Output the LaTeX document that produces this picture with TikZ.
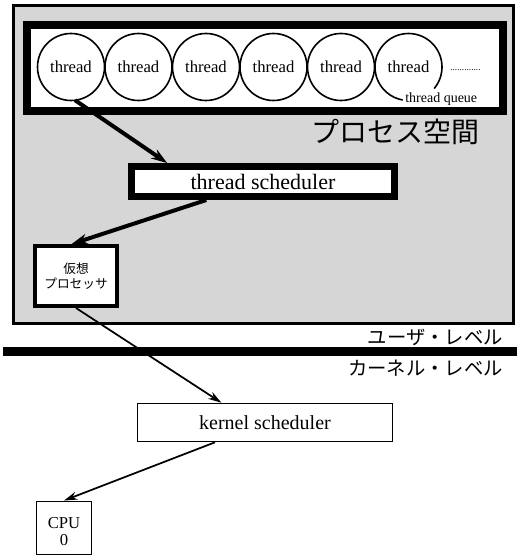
\documentclass[tikz,border=0pt]{standalone}
\usepackage{fontspec}
\setmainfont{Liberation Serif}
\newfontfamily\jp{Noto Sans CJK JP}
\usetikzlibrary{arrows.meta,calc}
\begin{document}
\begin{tikzpicture}[x=0.75pt,y=-0.75pt,
  procspace/.style={draw,fill=black!16,line width=2.25pt,minimum width=375pt,minimum height=238.5pt,inner sep=0pt,outer sep=0pt},
  queuebox/.style={draw,fill=white,line width=6pt,minimum width=357pt,minimum height=64.5pt,inner sep=0pt,outer sep=0pt},
  circ/.style={circle,draw,line width=1.2pt,minimum size=50.25pt,inner sep=0pt,outer sep=0pt,font=\fontsize{12.5}{14}\selectfont},
  schedbox/.style={draw,fill=white,line width=5.25pt,minimum width=197.25pt,minimum height=22.5pt,inner sep=0pt,font=\fontsize{16.5}{18}\selectfont},
  vpbox/.style={draw,fill=white,line width=3pt,minimum width=61.5pt,minimum height=45pt,inner sep=0pt,align=center,font=\jp\fontsize{9.5}{11}\selectfont},
  thinbox/.style={draw,fill=white,line width=1.2pt,inner sep=0pt},
  levellabel/.style={anchor=east,inner sep=0pt,font=\jp\fontsize{14.5}{16}\selectfont},
  bigarrow/.style={line width=3pt,-{Stealth[length=12pt,width=8pt]}},
  thinarrow/.style={line width=1.3pt,-{Stealth[length=10pt,width=6pt]}}]
\useasboundingbox (0,0) rectangle (517,556);

% process space
\node[procspace] (proc) at (263,164.5) {};
\node[queuebox] (queue) at (265,68) {};

% threads
\node[circ] (t1) at (71,67) {thread};
\node[circ] (t2) at (138.5,67) {thread};
\node[circ] (t3) at (206,67) {thread};
\node[circ] (t4) at (273.5,67) {thread};
\node[circ] (t5) at (341,67) {thread};
\node[circ,draw=none] (t6) at (408.5,67) {thread};
\draw[line width=1.2pt] (t6.-40) arc[start angle=-40,end angle=260,radius=25.125pt];
\node[anchor=base west,inner sep=0pt,font=\fontsize{7}{8}\selectfont] (dots) at (450,71) {.............};
\node[anchor=base west,inner sep=0pt,font=\fontsize{10.5}{12}\selectfont] (tq) at (405,103) {thread queue};

\node[inner sep=0pt,font=\jp\fontsize{21}{24}\selectfont] (pslabel) at (395,132) {プロセス空間};

% thread scheduler
\node[schedbox] (ts) at (263,181.5) {thread scheduler};

% virtual processor
\node[vpbox] (vp) at (76,276) {仮想\\プロセッサ};

% level separator
\coordinate (barL) at (3,351);
\coordinate (barR) at (517,351);
\draw[line width=6.75pt] (barL) -- (barR);
\node[levellabel] (user) at (503,337) {ユーザ・レベル};
\node[levellabel] (kern) at (503,368) {カーネル・レベル};

% kernel scheduler
\node[thinbox,minimum width=191.25pt,minimum height=28.5pt,font=\fontsize{15}{17}\selectfont] (ks) at (265,422.5) {kernel scheduler};

% CPU
\node[thinbox,minimum width=41.25pt,minimum height=40pt] (cpu) at (64,528) {};
\node[inner sep=0pt,align=center,font=\fontsize{12.5}{12.75}\selectfont] (cputext) at (64,532) {CPU\\0};

% arrows
\draw[bigarrow] (t1.-83) -- ($(ts.north west)!0.145!(ts.north east)$);
\draw[bigarrow] ($(ts.south west)!0.29!(ts.south east)$) -- ($(vp.north west)!0.45!(vp.north east)$);
\draw[thinarrow] (vp.south) -- ($(ks.north west)!0.33!(ks.north east)$);
\draw[thinarrow] ($(ks.south west)!0.305!(ks.south east)$) -- (cpu.north);
\end{tikzpicture}
\end{document}
